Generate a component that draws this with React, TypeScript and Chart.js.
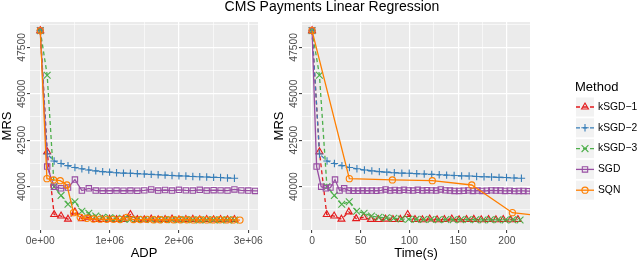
import React, { useEffect, useRef } from 'react';
import { Chart, registerables } from 'chart.js';
import { drawPoint } from 'chart.js/helpers';

Chart.register(...registerables);

const FONT = "'Liberation Sans', Arial, Helvetica, sans-serif";

// ---- series meta ----
const methods = ['kSGD\u22121', 'kSGD\u22122', 'kSGD\u22123', 'SGD', 'SQN'];
const colors = ['#E41A1C', '#377EB8', '#4DAF4A', '#984EA3', '#FF7F00'];
const pointStyles = ['triangle', 'cross', 'crossRot', 'rect', 'circle'];
const pointRadii = [4, 3.7, 4.8, 3.8, 3.1];
const dashes = [[4, 3], [4, 3], [4, 3], [], []];

// ---- MRS values (same per iteration in both panels) ----
const mrsK1 = [48400, 41880, 38500, 38420, 38250, 38640, 38280, 38350, 38240, 38230, 38250, 38230, 38240, 38500, 38230, 38220, 38260, 38220, 38230, 38260, 38220, 38230, 38240, 38220, 38230, 38220, 38230, 38220, 38230];
const mrsK2 = [48400, 41760, 41380, 41250, 41130, 41030, 40960, 40900, 40850, 40810, 40780, 40750, 40730, 40720, 40700, 40680, 40660, 40640, 40620, 40600, 40580, 40570, 40550, 40530, 40520, 40500, 40490, 40470, 40450];
const mrsK3 = [48400, 46000, 40000, 39530, 39050, 39190, 38680, 38570, 38420, 38350, 38320, 38300, 38260, 38250, 38240, 38230, 38230, 38220, 38230, 38220, 38220, 38230, 38220, 38210, 38220, 38220, 38210, 38220, 38210];
const mrsSGD = [48400, 41080, 40000, 39910, 39950, 40380, 39790, 39910, 39790, 39780, 39780, 39790, 39780, 39790, 39780, 39800, 39850, 39790, 39820, 39790, 39830, 39800, 39790, 39830, 39790, 39810, 39800, 39790, 39850, 39800, 39790, 39770, 39770, 39780, 39800, 39770, 39790, 39770, 39780, 39800, 39790, 39790, 39770, 39780, 39760, 39770, 39770, 39760, 39760];
const mrsSQN = [48400, 40430, 40360, 40320, 40090, 38600, 38350, 38300, 38260, 38250, 38240, 38240, 38230, 38350, 38230, 38230, 38240, 38220, 38220, 38230, 38220, 38220, 38220, 38210, 38220, 38210, 38210, 38220, 38210, 38210, 38200];

// ---- ADP (x of left panel) ----
const adpK = [0, 100000, 200000, 300000, 400000, 500000, 600000, 700000, 800000, 900000, 1000000, 1100000, 1200000, 1300000, 1400000, 1500000, 1600000, 1700000, 1800000, 1900000, 2000000, 2100000, 2200000, 2300000, 2400000, 2500000, 2600000, 2700000, 2800000];
const adpSGD = [0, 100000, 200000, 300000, 400000, 500000, 600000, 700000, 800000, 900000, 1000000, 1100000, 1200000, 1300000, 1400000, 1500000, 1600000, 1700000, 1800000, 1900000, 2000000, 2100000, 2200000, 2300000, 2400000, 2500000, 2600000, 2700000, 2800000, 2900000, 3000000, 3100000, 3200000, 3300000, 3400000, 3500000, 3600000, 3700000, 3800000, 3900000, 4000000, 4100000, 4200000, 4300000, 4400000, 4500000, 4600000, 4700000, 4800000];
const adpSQN = [0, 96000, 192000, 288000, 384000, 480000, 576000, 672000, 768000, 864000, 960000, 1056000, 1152000, 1248000, 1344000, 1440000, 1536000, 1632000, 1728000, 1824000, 1920000, 2016000, 2112000, 2208000, 2304000, 2400000, 2496000, 2592000, 2688000, 2784000, 2880000];

// ---- Time(s) (x of right panel) ----
const timeK1 = [0, 7.6, 15.1, 22.7, 30.2, 37.8, 45.3, 52.9, 60.4, 68.0, 75.5, 83.1, 90.6, 98.2, 105.7, 113.3, 120.8, 128.4, 135.9, 143.5, 151.0, 158.6, 166.1, 173.7, 181.2, 188.8, 196.3, 203.9, 211.4];
const timeK2 = [0, 7.7, 15.4, 23.0, 30.7, 38.4, 46.1, 53.8, 61.4, 69.1, 76.8, 84.5, 92.2, 99.8, 107.5, 115.2, 122.9, 130.6, 138.2, 145.9, 153.6, 161.3, 169.0, 176.6, 184.3, 192.0, 199.7, 207.4, 215.0];
const timeK3 = [0, 7.6, 15.3, 22.9, 30.5, 38.2, 45.8, 53.4, 61.0, 68.7, 76.3, 83.9, 91.6, 99.2, 106.8, 114.5, 122.1, 129.7, 137.3, 145.0, 152.6, 160.2, 167.9, 175.5, 183.1, 190.8, 198.4, 206.0, 213.6];
const timeSGD = [0, 4.7, 9.4, 14.2, 18.9, 23.6, 28.3, 33.0, 37.8, 42.5, 47.2, 51.9, 56.6, 61.4, 66.1, 70.8, 75.5, 80.2, 85.0, 89.7, 94.4, 99.1, 103.8, 108.6, 113.3, 118.0, 122.7, 127.4, 132.2, 136.9, 141.6, 146.3, 151.0, 155.8, 160.5, 165.2, 169.9, 174.6, 179.4, 184.1, 188.8, 193.5, 198.2, 203.0, 207.7, 212.4, 217.1, 221.8, 226.6];
const timeSQN = [0, 38.3, 82.5, 123.5, 164.0, 205.7, 247.0];

// ---- ticks ----
const yMajor = [40000, 42500, 45000, 47500];
const yMinor = [38750, 41250, 43750, 46250, 48750];
const adpMajor = [0, 1000000, 2000000, 3000000];
const adpMinor = [500000, 1500000, 2500000];
const adpLabels = ['0e+00', '1e+06', '2e+06', '3e+06'];
const timeMajor = [0, 50, 100, 150, 200];
const timeMinor = [25, 75, 125, 175];
const timeLabels = ['0', '50', '100', '150', '200'];

const mrsAll = [mrsK1, mrsK2, mrsK3, mrsSGD, mrsSQN];

function zip(xs: number[], ys: number[]) {
  const n = Math.min(xs.length, ys.length);
  const out: { x: number; y: number }[] = [];
  for (let i = 0; i < n; i++) out.push({ x: xs[i], y: ys[i] });
  return out;
}

function makeDatasets(xs: number[][]) {
  return mrsAll.map((vals, i) => ({
    label: methods[i],
    data: zip(xs[i], vals),
    borderColor: colors[i],
    backgroundColor: 'rgba(0,0,0,0)',
    borderWidth: 1.3,
    borderDash: dashes[i],
    pointStyle: pointStyles[i],
    pointRadius: pointRadii[i],
    pointHoverRadius: pointRadii[i],
    pointBorderWidth: 1.1,
    pointBorderColor: colors[i],
    pointBackgroundColor: 'rgba(0,0,0,0)',
    tension: 0,
    fill: false,
    order: 5 - i,
  }));
}

function gridOpts(major: number[]) {
  const isMajor = (c: any) => major.includes(c?.tick?.value);
  return {
    color: '#FFFFFF',
    lineWidth: (c: any) => (isMajor(c) ? 1.2 : 0.6),
    drawTicks: true,
    tickLength: 3,
    tickWidth: 1,
    tickColor: (c: any) => (isMajor(c) ? '#333333' : 'rgba(0,0,0,0)'),
  };
}

function makeScales(xMin: number, xMax: number, xMajor: number[], xMinor: number[], xLabels: string[], xTitle: string) {
  const xAll = [...xMajor, ...xMinor].sort((a, b) => a - b);
  const yAll = [...yMajor, ...yMinor].sort((a, b) => a - b);
  return {
    x: {
      type: 'linear',
      min: xMin,
      max: xMax,
      afterBuildTicks: (s: any) => { s.ticks = xAll.map((v) => ({ value: v })); },
      afterFit: (s: any) => { s.height = 32; },
      ticks: {
        autoSkip: false, maxRotation: 0, minRotation: 0, padding: 2,
        color: '#4D4D4D', font: { family: FONT, size: 10.3 },
        callback: (v: number) => { const k = xMajor.indexOf(v); return k >= 0 ? xLabels[k] : ''; },
      },
      grid: gridOpts(xMajor),
      border: { display: false },
      title: { display: true, text: xTitle, color: '#000000', font: { family: FONT, size: 13 }, padding: { top: 0, bottom: 1 } },
    },
    y: {
      type: 'linear',
      min: 37667,
      max: 48863,
      afterBuildTicks: (s: any) => { s.ticks = yAll.map((v) => ({ value: v })); },
      afterFit: (s: any) => { s.width = 30; },
      ticks: {
        autoSkip: false, minRotation: 90, maxRotation: 90, crossAlign: 'center', padding: -9.3,
        color: '#4D4D4D', font: { family: FONT, size: 10.3 },
        callback: (v: number) => (yMajor.includes(v) ? String(v) : ''),
      },
      grid: gridOpts(yMajor),
      border: { display: false },
      title: { display: true, text: 'MRS', color: '#000000', font: { family: FONT, size: 13 }, padding: { top: 0, bottom: 0 } },
    },
  };
}

const panelBg = {
  id: 'panelBg',
  beforeDraw(chart: any) {
    const { ctx, chartArea: a } = chart;
    ctx.save();
    ctx.fillStyle = '#EBEBEB';
    ctx.fillRect(a.left, a.top, a.right - a.left, a.bottom - a.top);
    ctx.restore();
  },
};

const LEG_X = 303;
const methodLegend = {
  id: 'methodLegend',
  afterDraw(chart: any) {
    const ctx = chart.ctx;
    ctx.save();
    ctx.textBaseline = 'middle';
    ctx.textAlign = 'left';
    ctx.fillStyle = '#000000';
    ctx.font = `13px ${FONT}`;
    ctx.fillText('Method', LEG_X, 87);
    methods.forEach((m, i) => {
      const cy = 107 + i * 20.8;
      ctx.fillStyle = '#F2F2F2';
      ctx.fillRect(LEG_X + 1, cy - 9.5, 18, 19);
      ctx.strokeStyle = colors[i];
      ctx.lineWidth = 1.3;
      ctx.setLineDash(dashes[i]);
      ctx.beginPath();
      ctx.moveTo(LEG_X + 1, cy);
      ctx.lineTo(LEG_X + 19, cy);
      ctx.stroke();
      ctx.setLineDash([]);
      ctx.lineWidth = 1.1;
      ctx.fillStyle = 'rgba(0,0,0,0)';
      drawPoint(ctx, { pointStyle: pointStyles[i], radius: pointRadii[i], rotation: 0, borderWidth: 1.1 } as any, LEG_X + 10, cy);
      ctx.fillStyle = '#000000';
      ctx.font = `10.3px ${FONT}`;
      ctx.fillText(m, LEG_X + 23, cy);
    });
    ctx.restore();
  },
};

function baseOptions(padRight: number, scales: any) {
  return {
    animation: false,
    responsive: false,
    devicePixelRatio: 1,
    events: [],
    layout: { padding: { left: 0, top: 22, right: padRight, bottom: 0 } },
    plugins: { legend: { display: false }, tooltip: { enabled: false }, title: { display: false } },
    scales,
  };
}

export default function App() {
  const leftRef = useRef<HTMLCanvasElement>(null);
  const rightRef = useRef<HTMLCanvasElement>(null);

  useEffect(() => {
    const left = new Chart(leftRef.current as HTMLCanvasElement, {
      type: 'line',
      data: { datasets: makeDatasets([adpK, adpK, adpK, adpSGD, adpSQN]) as any },
      options: baseOptions(14, makeScales(-148000, 3140000, adpMajor, adpMinor, adpLabels, 'ADP')) as any,
      plugins: [panelBg],
    });
    const right = new Chart(rightRef.current as HTMLCanvasElement, {
      type: 'line',
      data: { datasets: makeDatasets([timeK1, timeK2, timeK3, timeSGD, timeSQN]) as any },
      options: baseOptions(110, makeScales(-10.3, 223.8, timeMajor, timeMinor, timeLabels, 'Time(s)')) as any,
      plugins: [panelBg, methodLegend],
    });
    return () => { left.destroy(); right.destroy(); };
  }, []);

  return (
    <div style={{ position: 'absolute', left: 0, top: 0, width: 640, height: 262, background: '#FFFFFF', overflow: 'hidden', fontFamily: FONT }}>
      <canvas ref={leftRef} width={272} height={262} style={{ position: 'absolute', left: 0, top: 0, display: 'block' }} />
      <canvas ref={rightRef} width={368} height={262} style={{ position: 'absolute', left: 272, top: 0, display: 'block' }} />
      <div style={{ position: 'absolute', left: 132, top: -1.5, width: 400, textAlign: 'center', fontSize: 14, lineHeight: '14px', color: '#000000', whiteSpace: 'nowrap' }}>
        CMS Payments Linear Regression
      </div>
    </div>
  );
}
